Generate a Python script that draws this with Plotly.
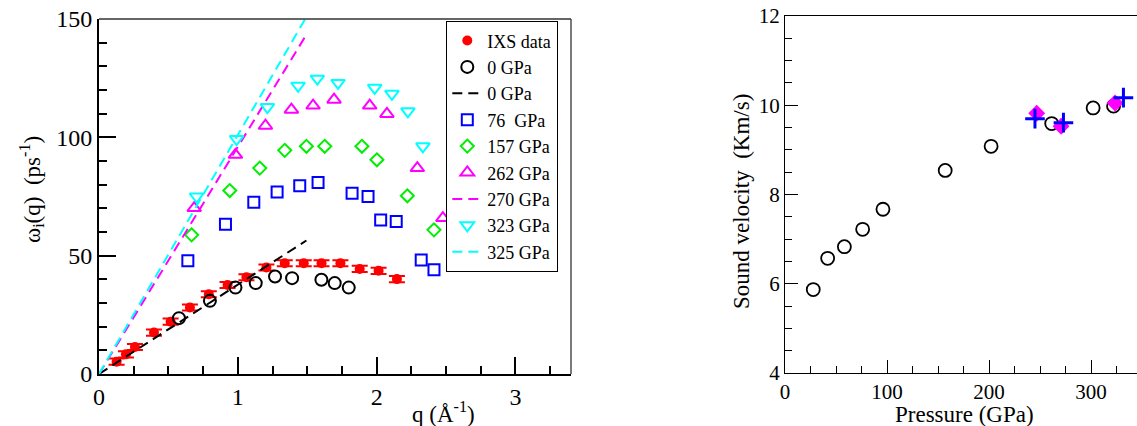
import plotly.graph_objects as go

# ---------------- left panel data ----------------
ixs_q = [0.127, 0.194, 0.259, 0.396, 0.516, 0.655, 0.791, 0.926, 1.062, 1.206,
         1.338, 1.475, 1.603, 1.739, 1.878, 2.014, 2.146]
ixs_w = [5.2, 8.3, 11.4, 17.5, 22.1, 28.1, 33.7, 37.6, 40.9, 45.0,
         46.8, 46.8, 46.8, 46.8, 44.4, 43.6, 40.1]
ixs_err = 1.3

q_0 = [0.576, 0.799, 0.983, 1.129, 1.268, 1.391, 1.602, 1.698, 1.799]
w_0 = [23.6, 30.9, 36.5, 38.4, 41.2, 40.5, 39.8, 38.4, 36.5]

line0_q = [0.0, 1.494]
line0_w = [0.0, 56.4]

q_76 = [0.640, 0.911, 1.115, 1.283, 1.446, 1.578, 1.823, 1.938, 2.029, 2.141, 2.321, 2.413]
w_76 = [47.8, 63.3, 72.6, 76.9, 79.5, 80.9, 76.4, 75.0, 65.1, 64.4, 48.2, 44.0]

q_157 = [0.667, 0.942, 1.158, 1.338, 1.494, 1.626, 1.894, 2.002, 2.221, 2.413]
w_157 = [58.8, 77.5, 87.0, 94.5, 96.2, 96.2, 96.2, 90.5, 75.3, 60.9]

q_262 = [0.686, 0.983, 1.199, 1.386, 1.542, 1.693, 1.950, 2.074, 2.293, 2.477]
w_262 = [70.1, 92.6, 104.9, 111.7, 113.4, 115.9, 113.4, 109.9, 87.0, 65.9]

line270_q = [0.0, 1.487]
line270_w = [0.0, 142.7]

q_323 = [0.703, 0.991, 1.213, 1.434, 1.573, 1.722, 1.986, 2.110, 2.225, 2.333]
w_323 = [75.0, 99.3, 112.8, 121.8, 124.8, 123.0, 120.9, 118.4, 111.0, 96.2]

line325_q = [0.0, 1.5]
line325_w = [0.0, 151.5]

left_xticks = [0, 1, 2, 3]
left_yticks = [0, 50, 100, 150]

# ---------------- right panel data ----------------
p_circ = [27.7, 41.8, 58.2, 76.1, 96.0, 157.0, 202.0, 261.4, 302.0, 322.0]
v_circ = [5.87, 6.57, 6.83, 7.22, 7.67, 8.54, 9.08, 9.59, 9.94, 9.98]
p_dia = [246.7, 270.6, 323.5]
v_dia = [9.82, 9.53, 10.05]
p_plus = [245.0, 272.9, 331.7]
v_plus = [9.70, 9.61, 10.17]

right_xticks = [0, 100, 200, 300]
right_yticks = [4, 6, 8, 10, 12]

FONT = "Liberation Serif"
W, H = 1137, 426

def px(x):
    return x / W

def py(y):
    return (H - y) / H

fig = go.Figure()

fig.add_trace(go.Scatter(x=ixs_q, y=ixs_w, mode="markers", name="IXS data",
                         marker=dict(symbol="circle", size=10, color="#ff0000"),
                         error_y=dict(type="constant", value=ixs_err, thickness=2,
                                      width=8, color="#ff0000"),
                         xaxis="x", yaxis="y"))
fig.add_trace(go.Scatter(x=q_0, y=w_0, mode="markers", name="0 GPa",
                         marker=dict(symbol="circle-open", size=12, color="black",
                                     line=dict(width=2, color="black")),
                         xaxis="x", yaxis="y"))
fig.add_trace(go.Scatter(x=line0_q, y=line0_w, mode="lines", name="0 GPa",
                         line=dict(color="black", width=2, dash="10px,6px"),
                         xaxis="x", yaxis="y"))
fig.add_trace(go.Scatter(x=q_76, y=w_76, mode="markers", name="76  GPa",
                         marker=dict(symbol="square-open", size=11, color="#0000ff",
                                     line=dict(width=2, color="#0000ff")),
                         xaxis="x", yaxis="y"))
fig.add_trace(go.Scatter(x=q_157, y=w_157, mode="markers", name="157 GPa",
                         marker=dict(symbol="diamond-open", size=10, color="#00ee00",
                                     line=dict(width=2, color="#00ee00")),
                         xaxis="x", yaxis="y"))
fig.add_trace(go.Scatter(x=q_262, y=w_262, mode="markers", name="262 GPa",
                         marker=dict(symbol="triangle-up-open", size=12, color="#ff00ff",
                                     line=dict(width=2, color="#ff00ff")),
                         xaxis="x", yaxis="y"))
fig.add_trace(go.Scatter(x=line270_q, y=line270_w, mode="lines", name="270 GPa",
                         line=dict(color="#ff00ff", width=2, dash="10px,6px"),
                         xaxis="x", yaxis="y"))
fig.add_trace(go.Scatter(x=q_323, y=w_323, mode="markers", name="323 GPa",
                         marker=dict(symbol="triangle-down-open", size=12, color="#00ffff",
                                     line=dict(width=2, color="#00ffff")),
                         xaxis="x", yaxis="y"))
fig.add_trace(go.Scatter(x=line325_q, y=line325_w, mode="lines", name="325 GPa",
                         line=dict(color="#00ffff", width=2, dash="10px,6px"),
                         xaxis="x", yaxis="y"))

# right panel
fig.add_trace(go.Scatter(x=p_circ, y=v_circ, mode="markers", showlegend=False,
                         marker=dict(symbol="circle-open", size=13, color="black",
                                     line=dict(width=1.8, color="black")),
                         xaxis="x2", yaxis="y2"))
fig.add_trace(go.Scatter(x=p_dia, y=v_dia, mode="markers", showlegend=False,
                         marker=dict(symbol="diamond", size=13, color="#ff00ff",
                                     line=dict(width=0)),
                         xaxis="x2", yaxis="y2"))
fig.add_trace(go.Scatter(x=p_plus, y=v_plus, mode="markers", showlegend=False,
                         marker=dict(symbol="cross-thin", size=14, color="#0000ff",
                                     line=dict(width=3, color="#0000ff")),
                         xaxis="x2", yaxis="y2"))

fig.update_layout(
    template="none",
    width=W, height=H,
    margin=dict(l=0, r=0, t=0, b=0),
    paper_bgcolor="white", plot_bgcolor="white",
    font=dict(family=FONT, color="black", size=22),
    xaxis=dict(domain=[px(99), px(571)], range=[0, 3.4], anchor="y",
               tickmode="array", tickvals=left_xticks,
               ticktext=[str(v) for v in left_xticks],
               ticks="inside", ticklen=17, tickwidth=2,
               tickcolor="black", showline=True, linewidth=2, linecolor="black",
               showgrid=False, zeroline=False, automargin=False,
               tickfont=dict(family=FONT, size=24, color="black"),
               minor=dict(dtick=0.25, tick0=0, ticks="inside", ticklen=8,
                          tickwidth=2, tickcolor="black", showgrid=False)),
    yaxis=dict(domain=[py(374), py(19)], range=[0, 150], anchor="x",
               tickmode="array", tickvals=left_yticks,
               ticktext=[str(v) for v in left_yticks],
               ticks="inside", ticklen=17, tickwidth=2,
               tickcolor="black", showline=True, linewidth=2, linecolor="black",
               showgrid=False, zeroline=False, automargin=False,
               tickfont=dict(family=FONT, size=24, color="black"),
               minor=dict(dtick=10, tick0=0, ticks="inside", ticklen=8,
                          tickwidth=2, tickcolor="black", showgrid=False)),
    xaxis2=dict(domain=[px(785), 1.0], range=[0, 345], anchor="y2",
                tickmode="array", tickvals=right_xticks,
                ticktext=[str(v) for v in right_xticks],
                ticks="inside", ticklen=13, tickwidth=1.3,
                tickcolor="black", showline=True, linewidth=1.3, linecolor="black",
                mirror=True, showgrid=False, zeroline=False, automargin=False,
                tickfont=dict(family=FONT, size=21, color="black"),
                minor=dict(dtick=25, tick0=0, ticks="inside", ticklen=7,
                           tickwidth=1.3, tickcolor="black", showgrid=False)),
    yaxis2=dict(domain=[py(373), py(16)], range=[4, 12], anchor="x2",
                tickmode="array", tickvals=right_yticks,
                ticktext=[str(v) for v in right_yticks],
                ticks="inside", ticklen=13, tickwidth=1.3,
                tickcolor="black", showline=True, linewidth=1.3, linecolor="black",
                mirror=True, showgrid=False, zeroline=False, automargin=False,
                tickfont=dict(family=FONT, size=21, color="black"),
                minor=dict(dtick=0.5, tick0=4, ticks="inside", ticklen=7,
                           tickwidth=1.3, tickcolor="black", showgrid=False)),
    legend=dict(x=px(446), y=py(21), xanchor="left", yanchor="top",
                bgcolor="white", bordercolor="black", borderwidth=1.3,
                font=dict(family=FONT, size=18, color="black"),
                tracegroupgap=0),
    showlegend=True,
)

# thin top / right frame lines of left panel
fig.add_shape(type="line", xref="x domain", yref="y domain", x0=0, x1=1, y0=1, y1=1,
              line=dict(color="#333333", width=1.3))
fig.add_shape(type="line", xref="x domain", yref="y domain", x0=1, x1=1, y0=0, y1=1,
              line=dict(color="#333333", width=1.3))

annots = [
    dict(text="q (Å<sup>-1</sup>)", x=px(443), y=py(412), xref="paper", yref="paper",
         showarrow=False, xanchor="center", yanchor="middle",
         font=dict(family=FONT, size=23, color="black")),
    dict(text="ω<sub>i</sub>(q)  (ps<sup>-1</sup>)", x=px(31), y=py(190),
         xref="paper", yref="paper", textangle=-90, showarrow=False,
         xanchor="center", yanchor="middle",
         font=dict(family=FONT, size=23, color="black")),
    dict(text="Pressure (GPa)", x=px(964), y=py(414), xref="paper", yref="paper",
         showarrow=False, xanchor="center", yanchor="middle",
         font=dict(family=FONT, size=23, color="black")),
    dict(text="Sound velocity  (Km/s)", x=px(742), y=py(202), xref="paper",
         yref="paper", textangle=-90, showarrow=False, xanchor="center",
         yanchor="middle", font=dict(family=FONT, size=23, color="black")),
]
fig.update_layout(annotations=annots)

fig.write_html("out.html")
